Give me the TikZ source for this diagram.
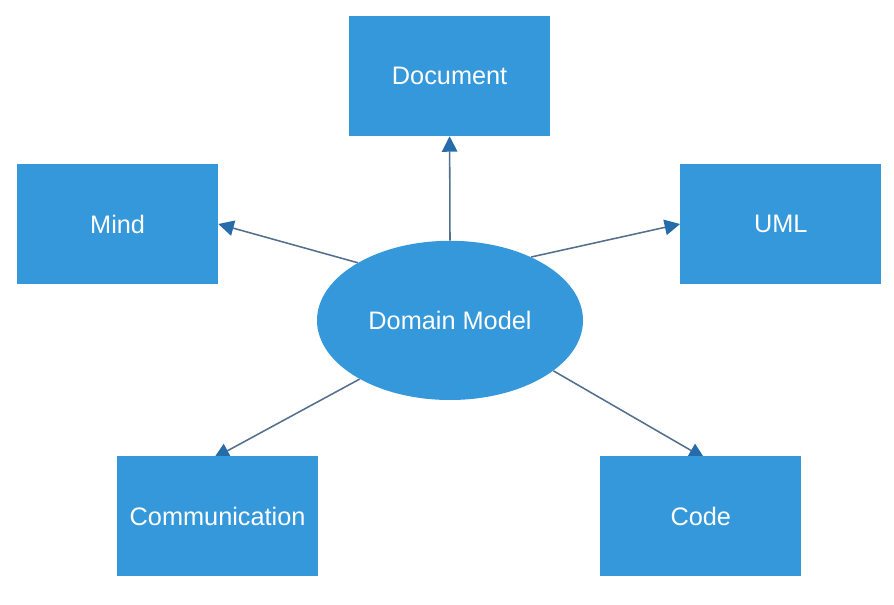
\documentclass[tikz,border=0pt]{standalone}
\usepackage{fontspec}
\setmainfont{Liberation Sans}
\usepackage{tikz}
\usetikzlibrary{arrows.meta,shapes.geometric,backgrounds}
\usepackage{xcolor}
\definecolor{boxblue}{RGB}{52,152,219}
\definecolor{linkgray}{RGB}{84,112,140}
\definecolor{tipblue}{RGB}{38,108,170}

\begin{document}
\begin{tikzpicture}[
    box/.style={rectangle,fill=boxblue,minimum width=5.02cm,minimum height=3cm,
      text=white,font=\fontsize{18}{20}\selectfont,inner sep=0pt},
    link/.style={draw=linkgray,line width=1.1pt,
      -{Triangle[length=11pt,width=11pt,fill=tipblue,color=tipblue]}}
  ]
  \useasboundingbox (0,0) rectangle (22.35,15.1);

  % --- centre ellipse ---
  \node[ellipse,fill=boxblue,minimum width=6.65cm,minimum height=3.98cm,
    text=white,font=\fontsize{18}{20}\selectfont,inner sep=0pt]
    (dm) at (11.25,7.09) {Domain Model};

  % --- surrounding boxes ---
  \node[box] (doc)  at (11.24,13.2) {Document};
  \node[box] (mind) at (2.94,9.5)   {Mind};
  \node[box] (uml)  at (19.52,9.5)  {UML};
  \node[box] (comm) at (5.44,2.19)  {Communication};
  \node[box] (code) at (17.52,2.19) {Code};

  % --- canvas and links (behind the boxes) ---
  \begin{scope}[on background layer]
    \fill[white] (0,0) rectangle (22.35,15.1);
    \draw[link] (dm.north) -- (doc.south);
    \draw[link] (dm.148) -- (mind.east);
    \draw[link] (dm.38) -- (uml.west);
    \draw[link,shorten >=-3pt] (dm.213) -- (comm.north);
    \draw[link,shorten >=-3pt] (dm.334) -- (code.north);
  \end{scope}
\end{tikzpicture}
\end{document}
